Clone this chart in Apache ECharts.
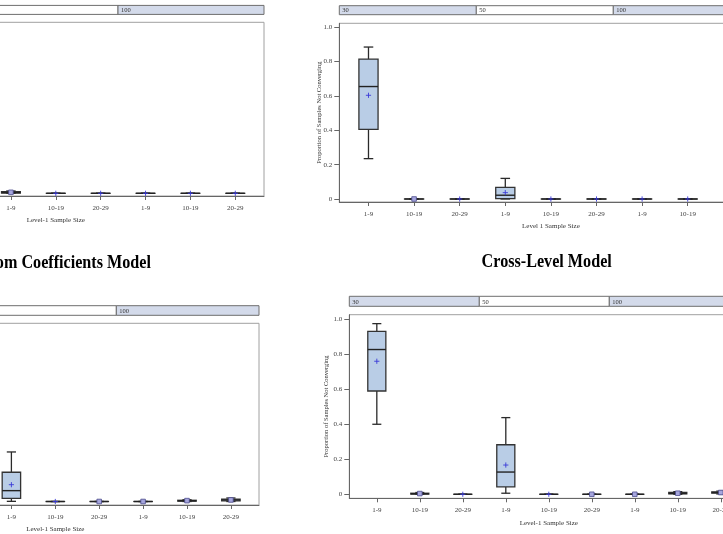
<!DOCTYPE html>
<html><head><meta charset="utf-8">
<script src="https://cdn.jsdelivr.net/npm/echarts@6/dist/echarts.min.js"></script>
<style>html,body{margin:0;padding:0;background:#fff}#c{width:723px;height:534px}</style>
</head><body><div id="c"></div>
<script>
// ---- data ----
const categories = ['1-9','10-19','20-29','1-9','10-19','20-29','1-9','10-19','20-29'];
const groups = ['30','50','100'];
const yTicks = [0, 0.2, 0.4, 0.6, 0.8, 1.0];
// five-number summaries [low, q1, median, q3, high] per category (null = not visible)
const topLeftBoxes = [null, null, null, [0,0.002,0.005,0.01,0.014], [0,0,0,0,0], [0,0,0,0,0], [0,0,0,0,0], [0,0,0,0,0], [0,0,0,0,0]];
const topLeftMeans = [null, null, null, 0.006, 0, 0, 0, 0, 0];
const topLeftMarks = [null, null, null, 'square', 'plus', 'plus', 'plus', 'plus', 'plus'];

const topRightBoxes = [[0.235,0.405,0.655,0.815,0.885], [0,0,0,0,0], [0,0,0,0,0], [0,0.002,0.022,0.068,0.12], [0,0,0,0,0], [0,0,0,0,0], [0,0,0,0,0], [0,0,0,0,0], null];
const topRightMeans = [0.604, 0, 0, 0.037, 0, 0, 0, 0, null];
const topRightMarks = ['plus', 'square', 'plus', 'plus', 'plus', 'plus', 'plus', 'plus', null];

const randomCoefBoxes = [null, null, null, [0.001,0.018,0.062,0.167,0.283], [0,0,0,0,0], [0,0,0,0,0], [0,0,0,0,0], [0,0.002,0.004,0.007,0.01], [0,0.004,0.009,0.014,0.02]];
const randomCoefMeans = [null, null, null, 0.096, 0, 0, 0, 0.005, 0.009];
const randomCoefMarks = [null, null, null, 'plus', 'plus', 'square', 'square', 'square', 'square'];

const crossLevelBoxes = [[0.40,0.59,0.827,0.931,0.975], [0,0.001,0.003,0.006,0.01], [0,0,0,0,0], [0.006,0.042,0.127,0.283,0.438], [0,0,0,0,0], [0,0,0,0,0], [0,0,0,0,0], [0,0.002,0.005,0.01,0.015], [0.002,0.006,0.01,0.014,0.018]];
const crossLevelMeans = [0.76, 0.004, 0, 0.167, 0, 0, 0, 0.006, 0.01];
const crossLevelMarks = ['plus', 'square', 'plus', 'plus', 'plus', 'square', 'square', 'square', 'square'];

const yTitle = 'Proportion of Samples Not Converging';

// ---- layout ----
const FONT = '"Liberation Serif", "DejaVu Serif", serif';
const panels = [
  {boxes: topLeftBoxes, means: topLeftMeans, marks: topLeftMarks, xName: 'Level-1 Sample Size',
   grid: {left: -152.4, top: 22.3, width: 416.4, height: 173.7}, yMin: -0.016, yMax: 1.02, xGap: 20.5, yGap: 17,
   header: {left: -174, top: 5.4, width: 438, height: 9}},
  {boxes: topRightBoxes, means: topRightMeans, marks: topRightMarks, xName: 'Level 1 Sample Size',
   grid: {left: 339.3, top: 23.3, width: 423.2, height: 178.7}, yMin: -0.0175, yMax: 1.0233, xGap: 21, yGap: 17,
   header: {left: 339.3, top: 5.7, width: 411, height: 9}},
  {boxes: randomCoefBoxes, means: randomCoefMeans, marks: randomCoefMarks, xName: 'Level-1 Sample Size',
   grid: {left: -148.4, top: 323.3, width: 407.4, height: 181.7}, yMin: -0.02, yMax: 1.018, xGap: 21, yGap: 20,
   header: {left: -169, top: 305.7, width: 428, height: 9.6}},
  {boxes: crossLevelBoxes, means: crossLevelMeans, marks: crossLevelMarks, xName: 'Level-1 Sample Size',
   grid: {left: 349.3, top: 314.7, width: 399, height: 183.6}, yMin: -0.023, yMax: 1.026, xGap: 21, yGap: 20,
   header: {left: 349.3, top: 296.3, width: 390, height: 10}}
];
const headerFill = ['#d3daea', '#ffffff', '#d3daea'];

function renderBox(params, api) {
  const x = api.value(0);
  const c = v => api.coord([x, v]);
  const pLow = c(api.value(1)), pQ1 = c(api.value(2)), pMed = c(api.value(3)),
        pQ3 = c(api.value(4)), pHigh = c(api.value(5)), pMean = c(api.value(6));
  const mk = api.value(7);
  const w = api.size([1, 0])[0] * 0.42;
  const cx = pLow[0];
  const ls = {stroke: '#2a2a2a', lineWidth: 1.3};
  const ch = [];
  ch.push({type: 'line', shape: {x1: cx, y1: pHigh[1], x2: cx, y2: pQ3[1]}, style: ls});
  ch.push({type: 'line', shape: {x1: cx, y1: pLow[1], x2: cx, y2: pQ1[1]}, style: ls});
  ch.push({type: 'line', shape: {x1: cx - w / 4, y1: pHigh[1], x2: cx + w / 4, y2: pHigh[1]}, style: ls});
  ch.push({type: 'line', shape: {x1: cx - w / 4, y1: pLow[1], x2: cx + w / 4, y2: pLow[1]}, style: ls});
  ch.push({type: 'rect', shape: {x: cx - w / 2, y: pQ3[1], width: w, height: Math.max(pQ1[1] - pQ3[1], 0.01)},
           style: {fill: '#b9cde6', stroke: '#333', lineWidth: 1.3}});
  ch.push({type: 'line', shape: {x1: cx - w / 2, y1: pMed[1], x2: cx + w / 2, y2: pMed[1]}, style: {stroke: '#222', lineWidth: 1.4}});
  if (mk === 1) {
    ch.push({type: 'rect', shape: {x: cx - 2.3, y: pMean[1] - 2.3, width: 4.6, height: 4.6},
             style: {fill: '#a6a6de', stroke: '#4b4b8c', lineWidth: 0.8}});
  } else {
    const s = 2.6;
    ch.push({type: 'line', shape: {x1: cx - s, y1: pMean[1], x2: cx + s, y2: pMean[1]}, style: {stroke: '#3a3ad8', lineWidth: 0.9}});
    ch.push({type: 'line', shape: {x1: cx, y1: pMean[1] - s, x2: cx, y2: pMean[1] + s}, style: {stroke: '#3a3ad8', lineWidth: 0.9}});
  }
  return {type: 'group', children: ch};
}

function renderHeader(params, api) {
  const i = api.value(0);
  const p0 = api.coord([i, 1]), p1 = api.coord([i + 1, 0]);
  return {type: 'group', children: [
    {type: 'rect', shape: {x: p0[0], y: p0[1], width: p1[0] - p0[0], height: p1[1] - p0[1]},
     style: {fill: headerFill[i], stroke: '#6e6e6e', lineWidth: 1}},
    {type: 'text', x: p0[0] + 3, y: (p0[1] + p1[1]) / 2 + 0.5,
     style: {text: groups[i], fontSize: 6.5, fontFamily: FONT, fill: '#333', verticalAlign: 'middle', align: 'left'}}
  ]};
}

const option = {animation: false, grid: [], xAxis: [], yAxis: [], series: [], graphic: []};
const catIdx = categories.map((_, i) => i);
const textCol = '#444';

panels.forEach(p => {
  const gi = option.grid.length;
  option.grid.push(Object.assign({show: true, borderColor: '#a0a0a0', borderWidth: 1, backgroundColor: 'transparent',
    containLabel: false, outerBoundsMode: 'none'}, p.grid));
  option.xAxis.push({
    gridIndex: gi, type: 'value', min: -0.64, max: 8.64,
    axisLine: {show: true, onZero: false, lineStyle: {color: '#666', width: 1}},
    axisTick: {show: true, customValues: catIdx, length: 4, lineStyle: {color: '#666'}},
    axisLabel: {customValues: catIdx, formatter: v => categories[Math.round(v)], fontSize: 7, margin: 8.5, color: textCol, fontFamily: FONT},
    splitLine: {show: false},
    name: p.xName, nameLocation: 'middle', nameGap: p.xGap, nameMoveOverlap: false,
    nameTextStyle: {fontSize: 7, color: '#333', fontFamily: FONT}
  });
  option.yAxis.push({
    gridIndex: gi, type: 'value', min: p.yMin, max: p.yMax,
    axisLine: {show: true, onZero: false, lineStyle: {color: '#666', width: 1}},
    axisTick: {show: true, customValues: yTicks, length: 5, lineStyle: {color: '#666'}},
    axisLabel: {customValues: yTicks, formatter: v => (v === 0 ? '0' : v.toFixed(1)), fontSize: 7, margin: 7, color: textCol, fontFamily: FONT},
    splitLine: {show: false},
    name: yTitle, nameLocation: 'middle', nameGap: p.yGap, nameRotate: 90, nameMoveOverlap: false,
    nameTextStyle: {fontSize: 6.5, color: '#333', fontFamily: FONT}
  });
  const data = [];
  p.boxes.forEach((b, i) => {
    if (!b) return;
    data.push([i, b[0], b[1], b[2], b[3], b[4], p.means[i], p.marks[i] === 'square' ? 1 : 0]);
  });
  option.series.push({type: 'custom', xAxisIndex: gi, yAxisIndex: gi, renderItem: renderBox,
    encode: {x: 0, y: [1, 2, 3, 4, 5]}, data: data, silent: true});

  const hi = option.grid.length;
  option.grid.push(Object.assign({show: false, containLabel: false, outerBoundsMode: 'none'}, p.header));
  option.xAxis.push({gridIndex: hi, type: 'value', min: 0, max: 3, show: false});
  option.yAxis.push({gridIndex: hi, type: 'value', min: 0, max: 1, show: false});
  option.series.push({type: 'custom', xAxisIndex: hi, yAxisIndex: hi, renderItem: renderHeader,
    encode: {x: 0}, data: [[0], [1], [2]], silent: true});
});

option.graphic = [
  {type: 'text', x: 151, y: 263.3, scaleX: 0.85,
   style: {text: 'Random Coefficients Model', fontSize: 19, fontWeight: 'bold', fontFamily: FONT, fill: '#000', align: 'right', verticalAlign: 'middle'}},
  {type: 'text', x: 546.7, y: 261.7, scaleX: 0.85,
   style: {text: 'Cross-Level Model', fontSize: 19, fontWeight: 'bold', fontFamily: FONT, fill: '#000', align: 'center', verticalAlign: 'middle'}}
];

const chart = echarts.init(document.getElementById('c'), null, {renderer: 'canvas'});
chart.setOption(option);
</script></body></html>
